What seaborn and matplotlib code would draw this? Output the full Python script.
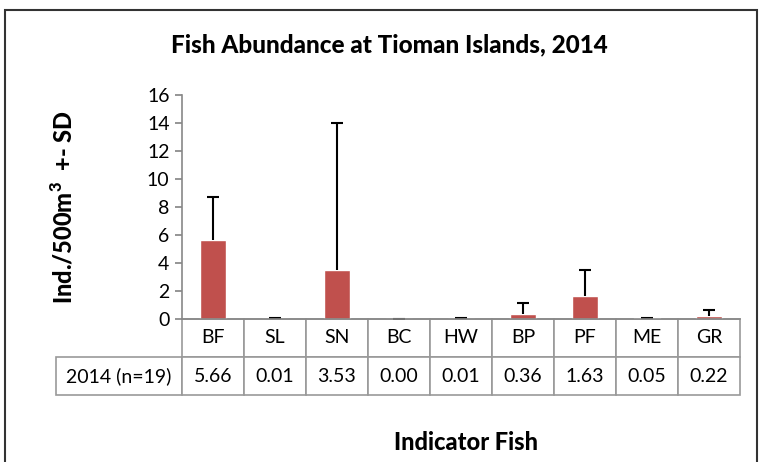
import matplotlib
matplotlib.use("Agg")
import matplotlib.pyplot as plt
import pandas as pd
import seaborn as sns
from matplotlib.patches import Rectangle

fish = ["BF", "SL", "SN", "BC", "HW", "BP", "PF", "ME", "GR"]
mean_2014 = [5.66, 0.01, 3.53, 0.00, 0.01, 0.36, 1.63, 0.05, 0.22]
sd_2014 = [3.03, 0.04, 10.45, 0.00, 0.07, 0.76, 1.88, 0.05, 0.42]
row_label = "2014 (n=19)"

sns.set_theme(style="white")
plt.rcParams["font.family"] = ["Lato", "DejaVu Sans"]
plt.rcParams["text.color"] = "black"
plt.rcParams["ytick.labelcolor"] = "black"

df = pd.DataFrame({"fish": fish, "mean": mean_2014, "sd": sd_2014})

fig = plt.figure(figsize=(7.62, 4.62), dpi=100)
ax = fig.add_axes([182 / 762, 143 / 462, 558 / 762, 224 / 462])

sns.barplot(data=df, x="fish", y="mean", color="#C0504D", width=0.42,
            errorbar=None, saturation=1, ax=ax)
xpos = range(len(fish))
eb = ax.errorbar(xpos, df["mean"], yerr=[[0] * len(fish), df["sd"]], fmt="none",
                 ecolor="black", elinewidth=1.5, capsize=4.3, capthick=1.5)
# only upper caps, like the original
eb[1][0].set_visible(False)

ax.set_ylim(0, 16)
ax.set_xlim(-0.5, len(fish) - 0.5)
ax.set_yticks(range(0, 17, 2))
ax.tick_params(axis="y", labelsize=14, length=5, color="#888888", direction="out",
               left=True, pad=4, labelcolor="black")
ax.set_xticks([])
ax.set_xlabel("")
ax.set_ylabel("")
for s in ["top", "right"]:
    ax.spines[s].set_visible(False)
for s in ["left", "bottom"]:
    ax.spines[s].set_color("#888888")
    ax.spines[s].set_linewidth(1.2)

# data table below the axis
tbl = ax.table(cellText=[[f"{v:.2f}" for v in mean_2014]], rowLabels=[row_label],
               colLabels=fish, colWidths=[1 / len(fish)] * len(fish),
               cellLoc="center", rowLoc="center",
               bbox=[0, -76 / 224, 1, 76 / 224])
tbl.auto_set_font_size(False)
for (r, c), cell in tbl.get_celld().items():
    cell.set_edgecolor("#999999")
    cell.set_linewidth(1.2)
    cell.get_text().set_fontsize(14)
    cell.get_text().set_color("black")
    if c == -1:
        cell.set_width(129 / 558)

fig.text(389 / 762, 1 - 45 / 462, "Fish Abundance at Tioman Islands, 2014",
         ha="center", va="center", fontsize=17.5, fontweight=900, color="black")
fig.text(63 / 762, 1 - 207 / 462, "Ind./500m$^\\mathregular{3}$  +- SD", rotation=90,
         ha="center", va="center", fontsize=17, fontweight=900, color="black")
fig.text(466 / 762, 1 - 443 / 462, "Indicator Fish", ha="center", va="center",
         fontsize=17, fontweight=900, color="black")

fig.patches.append(Rectangle((5 / 762, -0.1), 752 / 762, 1.1 - 10 / 462,
                             transform=fig.transFigure, fill=False,
                             edgecolor="#333333", linewidth=1.5))

fig.savefig("out.png", dpi=100)
